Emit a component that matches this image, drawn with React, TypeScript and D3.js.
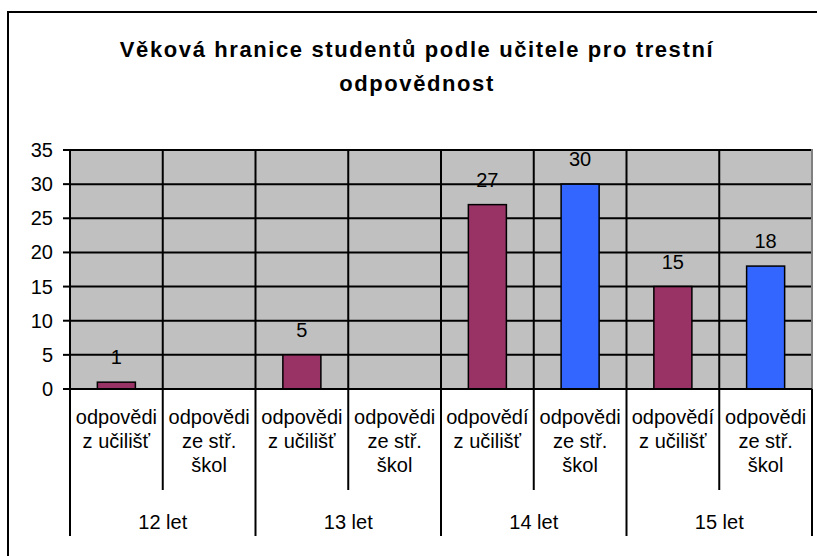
import React from "react";
import * as d3 from "d3";

const groups = ["12 let", "13 let", "14 let", "15 let"];
const subLabelsA = [
  ["odpovědi", "z učilišť"],
  ["odpovědi", "z učilišť"],
  ["odpovědí", "z učilišť"],
  ["odpovědí", "z učilišť"],
];
const subLabelsB = [
  ["odpovědi", "ze stř.", "škol"],
  ["odpovědi", "ze stř.", "škol"],
  ["odpovědi", "ze stř.", "škol"],
  ["odpovědi", "ze stř.", "škol"],
];
// purple = odpovědi z učilišť, blue = odpovědi ze stř. škol
const valuesA = [1, 5, 27, 15];
const valuesB: (number | null)[] = [null, null, 30, 18];
const yTicks = [0, 5, 10, 15, 20, 25, 30, 35];
const titleLines = ["Věková hranice studentů podle učitele pro trestní", "odpovědnost"];

const W = 817;
const H = 556;
const plot = { left: 70, right: 812, top: 150, bottom: 389 };
const font = "Arial, 'Liberation Sans', sans-serif";

export default function App() {
  const slots = groups.flatMap((g, i) => [`${i}-a`, `${i}-b`]);
  const x = d3.scaleBand().domain(slots).range([plot.left, plot.right]).padding(0);
  const y = d3.scaleLinear().domain([0, 35]).range([plot.bottom, plot.top]);
  const bw = x.bandwidth();
  const barW = bw * 0.41;

  const bars = groups.flatMap((g, i) => [
    { key: `${i}-a`, v: valuesA[i], color: "#993366", lines: subLabelsA[i] },
    { key: `${i}-b`, v: valuesB[i], color: "#3366FF", lines: subLabelsB[i] },
  ]);

  return (
    <svg width={W} height={H} style={{ position: "absolute", left: 0, top: 0, background: "#fff" }}>
      <rect x={8} y={12} width={840} height={580} fill="#fff" stroke="#000" strokeWidth={2} />

      {titleLines.map((t, i) => (
        <text
          key={t}
          x={417}
          y={57 + i * 34}
          textAnchor="middle"
          fontFamily={font}
          fontWeight="bold"
          fontSize={22}
          letterSpacing={1.6}
        >
          {t}
        </text>
      ))}

      <rect
        x={plot.left}
        y={plot.top}
        width={plot.right - plot.left}
        height={plot.bottom - plot.top}
        fill="#C0C0C0"
      />
      <path
        d={`M${plot.left},${plot.top}H${plot.right}V${plot.bottom}`}
        fill="none"
        stroke="#808080"
        strokeWidth={2}
      />

      {yTicks.slice(1).map((t) => (
        <line key={t} x1={plot.left} x2={plot.right - 1} y1={y(t)} y2={y(t)} stroke="#000" strokeWidth={2} />
      ))}
      {slots.slice(1).map((s) => (
        <line key={s} x1={x(s)!} x2={x(s)!} y1={plot.top} y2={plot.bottom} stroke="#000" strokeWidth={2} />
      ))}

      {bars.map((b) =>
        b.v == null ? null : (
          <g key={b.key}>
            <rect
              x={x(b.key)! + (bw - barW) / 2}
              y={y(b.v)}
              width={barW}
              height={y(0) - y(b.v)}
              fill={b.color}
              stroke="#000"
              strokeWidth={1.5}
            />
            <text
              x={x(b.key)! + bw / 2}
              y={y(b.v) - 18}
              textAnchor="middle"
              fontFamily={font}
              fontSize={20}
            >
              {b.v}
            </text>
          </g>
        )
      )}

      {/* y axis */}
      <line x1={plot.left} x2={plot.left} y1={plot.top} y2={536} stroke="#000" strokeWidth={2} />
      {yTicks.map((t) => (
        <g key={t}>
          <line x1={63} x2={plot.left} y1={y(t)} y2={y(t)} stroke="#000" strokeWidth={2} />
          <text x={53} y={y(t) + 7} textAnchor="end" fontFamily={font} fontSize={20}>
            {t}
          </text>
        </g>
      ))}
      <line x1={plot.left} x2={plot.right} y1={y(0)} y2={y(0)} stroke="#000" strokeWidth={2} />

      {/* category axis */}
      {slots.map((s, i) => (
        <line
          key={s}
          x1={x(s)! + bw}
          x2={x(s)! + bw}
          y1={y(0)}
          y2={i % 2 === 1 ? 536 : 490}
          stroke="#000"
          strokeWidth={2}
        />
      ))}
      {bars.map((b) =>
        b.lines.map((l, j) => (
          <text
            key={b.key + j}
            x={x(b.key)! + bw / 2}
            y={424 + j * 24}
            textAnchor="middle"
            fontFamily={font}
            fontSize={20}
          >
            {l}
          </text>
        ))
      )}
      {groups.map((g, i) => (
        <text
          key={g}
          x={x(`${i}-a`)! + bw}
          y={529}
          textAnchor="middle"
          fontFamily={font}
          fontSize={20}
        >
          {g}
        </text>
      ))}
    </svg>
  );
}
